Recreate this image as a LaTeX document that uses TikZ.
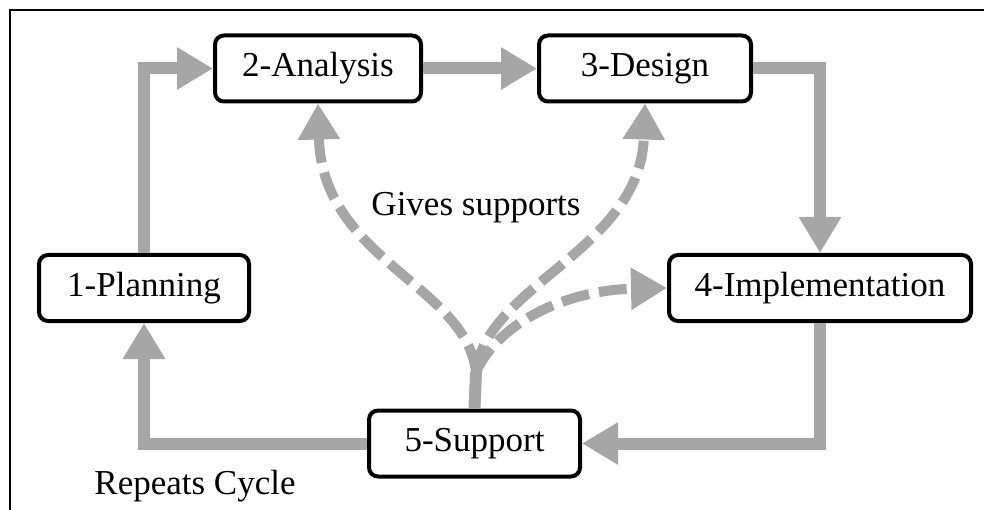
\documentclass[tikz,border=0pt]{standalone}
\usepackage{fontspec}
\setmainfont{Liberation Serif}
\usetikzlibrary{positioning,arrows.meta}
\definecolor{flowgray}{RGB}{166,166,166}

\begin{document}
\begin{tikzpicture}[
    x=1pt, y=-1pt,
    >={Triangle[length=36pt,width=40pt]},
    phase/.style={rectangle, rounded corners=9pt, draw, line width=4pt, minimum height=66pt, inner sep=4pt, font=\fontsize{35}{40}\selectfont},
    flow/.style={draw=flowgray, line width=12pt, ->},
    support/.style={draw=flowgray, line width=10pt, ->, dash pattern=on 28pt off 10pt},
    note/.style={font=\fontsize{35}{40}\selectfont}
]
    \useasboundingbox (0,0) rectangle (984,510);
    \draw[line width=2pt] (10,510) -- (10,10) -- (984,10);

    \node[phase, minimum width=210pt] (plan) at (144,288) {1-Planning};
    \node[phase, minimum width=206pt] (ana) at (318,68.5) {2-Analysis};
    \node[phase, minimum width=212pt, right=114pt of ana] (des) {3-Design};
    \node[phase, minimum width=302pt] (imp) at (820,288) {4-Implementation};
    \node[phase, minimum width=211pt] (sup) at (474.5,443.5) {5-Support};
    \coordinate (fork) at (476,372);

    \node[note] (gives) at (476,208) {Gives supports};
    \node[note] (repeat) at (195,486) {Repeats Cycle};

    \draw[flow] (plan.north) |- (ana.west);
    \draw[flow] (ana.east) -- (des.west);
    \draw[flow] (des.east) -| (imp.north);
    \draw[flow] (imp.south) |- (sup.east);
    \draw[flow] (sup.west) -| (plan.south);

    \draw[draw=flowgray, line width=12pt] (sup.north) -- (fork);
    \draw[support] (fork) .. controls (466,285) and (322,260) .. (ana.south);
    \draw[support] (fork) .. controls (486,285) and (640,250) .. (des.south);
    \draw[support] (fork) .. controls (500,320) and (570,290) .. (imp.west);
\end{tikzpicture}
\end{document}
